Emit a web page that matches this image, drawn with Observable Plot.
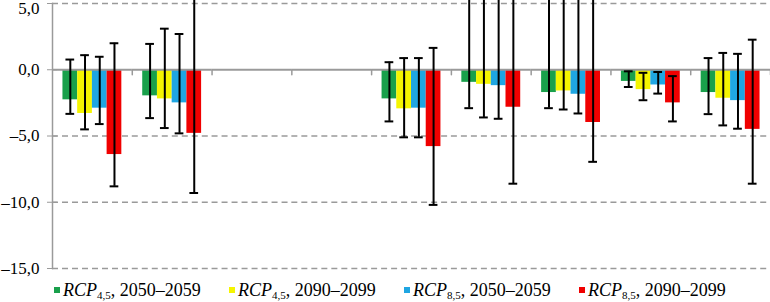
<!DOCTYPE html>
<html>
<head>
<meta charset="utf-8">
<script src="https://cdn.jsdelivr.net/npm/d3@7"></script>
<script src="https://cdn.jsdelivr.net/npm/@observablehq/plot@0.6"></script>
<style>
  html, body { margin: 0; padding: 0; background: #fff; }
  #chart { width: 770px; height: 302px; position: relative; font-family: "Liberation Serif", "Times New Roman", Tinos, "DejaVu Serif", serif; }
  #chart svg { display: block; }
  .legend { display: flex; margin-top: 2px; padding-left: 54px; font-size: 18px; line-height: 20px; color: #000; }
  .legend .item { width: 175px; display: flex; align-items: center; white-space: nowrap; }
  .legend .sw { width: 6px; height: 6px; margin-right: 3px; flex: none; }
  .legend i { font-style: italic; }
  .legend .sub { font-size: 11px; position: relative; top: 5px; }
</style>
</head>
<body>
<div id="chart"></div>
<script>
// Categories (unlabelled in the source; slots 3 and 4 are empty)
const categories = ["1", "2", "3", "4", "5", "6", "7", "8", "9"];

// Series
const seriesRcp = ["4,5", "4,5", "8,5", "8,5"];
const seriesPeriod = ["2050–2059", "2090–2099", "2050–2059", "2090–2099"];
const seriesColors = ["#19a04b", "#f5f500", "#1fa6e2", "#f00000"];

// Mean values per series (one value per category)
const rcp45_2050 = [-2.27, -1.97, null, null, -2.2, -0.95, -1.72, -0.88, -1.72];
const rcp45_2090 = [-3.3, -2.2, null, null, -2.95, -1.1, -1.6, -1.5, -2.15];
const rcp85_2050 = [-2.9, -2.5, null, null, -2.9, -1.2, -1.85, -1.15, -2.33];
const rcp85_2090 = [-6.4, -4.8, null, null, -5.8, -2.83, -3.98, -2.5, -4.5];

// Error bar upper ends (values above 5 run off the top of the chart)
const hi45_2050 = [0.77, 1.95, null, null, 0.57, 7, 7, -0.12, 0.88];
const hi45_2090 = [1.1, 3.1, null, null, 0.88, 7, 7, -0.23, 1.27];
const hi85_2050 = [0.98, 2.7, null, null, 0.88, 7, 7, -0.17, 1.2];
const hi85_2090 = [2.0, 7, null, null, 1.65, 7, 7, -0.48, 2.27];

// Error bar lower ends
const lo45_2050 = [-3.33, -3.65, null, null, -3.9, -2.9, -2.9, -1.3, -3.35];
const lo45_2090 = [-4.5, -4.4, null, null, -5.1, -3.6, -3.0, -2.3, -4.2];
const lo85_2050 = [-4.1, -4.8, null, null, -5.1, -3.7, -3.3, -1.8, -4.45];
const lo85_2090 = [-8.8, -9.3, null, null, -10.2, -8.6, -6.95, -3.9, -8.6];

// Axis ticks
const yTicks = [0, -5, -10, -15];
const yTopTick = [5];
const gridLines = [5, -5, -10, -15];

const seriesKeys = seriesRcp.map((r, j) => `RCP${r}, ${seriesPeriod[j]}`);
const means = [rcp45_2050, rcp45_2090, rcp85_2050, rcp85_2090];
const highs = [hi45_2050, hi45_2090, hi85_2050, hi85_2090];
const lows = [lo45_2050, lo45_2090, lo85_2050, lo85_2090];

const rows = categories.flatMap((c, i) => seriesKeys.map((s, j) => ({
  cat: c, series: s, value: means[j][i], hi: highs[j][i], lo: lows[j][i]
}))).filter(d => d.value != null);

// zero baseline, one segment per category slot (keeps every slot non-empty)
const baseline = categories.map(c => ({ cat: c, v: 0 }));

const fmt = d => d.toFixed(1).replace(".", ",").replace("-", "\u2013");
const gray = "#9a9a9a";
const serif = "'Liberation Serif', 'Times New Roman', Tinos, 'DejaVu Serif', serif";

const plot = Plot.plot({
  width: 770,
  height: 278,
  marginLeft: 52,
  marginRight: 0,
  marginTop: 3,
  marginBottom: 10,
  style: { fontFamily: serif, fontSize: "17px", background: "transparent" },
  fx: { domain: categories, padding: 0, round: false, axis: null },
  x: { domain: seriesKeys, paddingInner: 0, paddingOuter: 0.71, round: false, axis: null },
  y: { domain: [-15, 5] },
  color: { domain: seriesKeys, range: seriesColors },
  marks: [
    Plot.ruleY(gridLines, { stroke: gray, strokeWidth: 1.5, strokeDasharray: "6,4" }),
    Plot.barY(rows, { fx: "cat", x: "series", y: "value", fill: "series" }),
    Plot.ruleY(baseline, { fx: "cat", y: "v", stroke: gray, strokeWidth: 2 }),
    Plot.vector(baseline, {
      fx: "cat", y: "v", frameAnchor: "right", length: 5, rotate: 180, anchor: "start",
      stroke: gray, strokeWidth: 1.5,
      shape: { draw(ctx, l) { ctx.moveTo(0, 0); ctx.lineTo(0, -l); } }
    }),
    Plot.ruleX(rows, { fx: "cat", x: "series", y1: "lo", y2: "hi", stroke: "#000", strokeWidth: 2 }),
    Plot.tickY(rows, { fx: "cat", x: "series", y: "lo", stroke: "#000", strokeWidth: 2, insetLeft: 3, insetRight: 3 }),
    Plot.tickY(rows, { fx: "cat", x: "series", y: "hi", stroke: "#000", strokeWidth: 2, insetLeft: 3, insetRight: 3 }),
    Plot.frame({ anchor: "left", facetAnchor: "left", stroke: gray, strokeWidth: 1.5 }),
    Plot.axisY({ ticks: yTicks, tickFormat: fmt, tickSize: 10, dx: 5, tickPadding: 8, stroke: gray, fill: "#000", fontSize: 17, fontFamily: serif }),
    Plot.axisY({ ticks: yTopTick, tickFormat: () => "", tickSize: 10, dx: 5, tickPadding: 8, stroke: gray }),
    Plot.axisY({ ticks: yTopTick, tickFormat: fmt, tickSize: 0, tickPadding: 13, dy: 5, fill: "#000", fontSize: 17, fontFamily: serif })
  ]
});

const chart = document.getElementById("chart");
chart.appendChild(plot);

const legend = document.createElement("div");
legend.className = "legend";
seriesKeys.forEach((s, j) => {
  const item = document.createElement("div");
  item.className = "item";
  item.innerHTML = `<span class="sw" style="background:${seriesColors[j]}"></span><i>RCP</i><span class="sub">${seriesRcp[j]}</span>, ${seriesPeriod[j]}`;
  legend.appendChild(item);
});
chart.appendChild(legend);
</script>
</body>
</html>
